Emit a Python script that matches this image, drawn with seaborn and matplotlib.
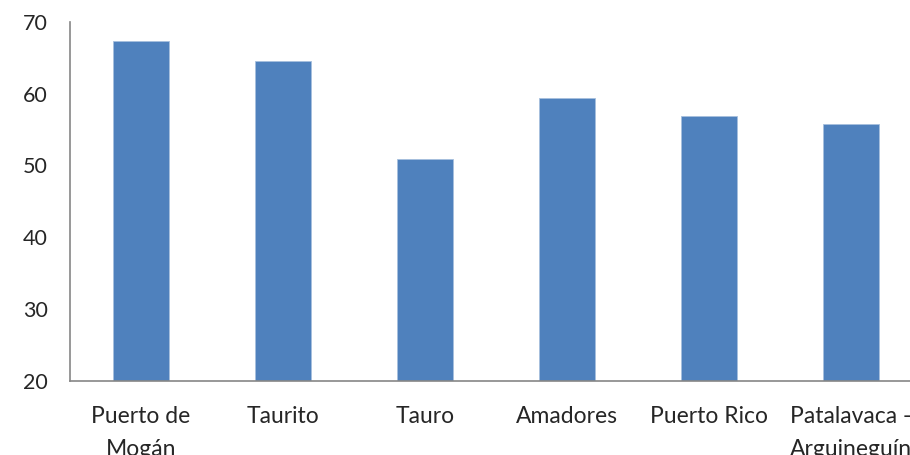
import matplotlib
matplotlib.use("Agg")
import matplotlib.pyplot as plt
import seaborn as sns
import pandas as pd
import numpy as np

sns.set_style("white")
plt.rcParams['font.family'] = ['Lato', 'DejaVu Sans']

places = ["Puerto de\nMogán", "Taurito", "Tauro", "Amadores", "Puerto Rico", "Patalavaca -\nArguineguín"]
values = [67.3, 64.6, 50.9, 59.4, 56.9, 55.8]

df = pd.DataFrame({"place": places, "value": values})

fig = plt.figure(figsize=(9.1, 4.55), dpi=100)
ax = fig.add_axes([70 / 910, 1 - 380.7 / 455, 852 / 910, (380.7 - 22) / 455])

sns.barplot(data=df, x="place", y="value", color="#4F81BD", width=0.4,
            saturation=1, edgecolor="#A7C0DE", linewidth=0.6, ax=ax)

ax.set_ylim(20, 70)
ax.set_xlim(-0.5, len(places) - 0.5)
ax.set_yticks(range(20, 71, 10))
ax.set_xlabel("")
ax.set_ylabel("")

# category boundaries get the tick marks, labels sit in between
ax.set_xticks(np.arange(-0.5, len(places), 1.0))
ax.set_xticklabels([])
ax.set_xticks(range(len(places)), minor=True)
ax.set_xticklabels(places, minor=True, fontsize=16.5, linespacing=1.7)
ax.tick_params(axis="x", which="major", direction="out", length=7, color="#868686", width=1.2)
ax.tick_params(axis="x", which="minor", length=0, pad=18)
ax.tick_params(axis="y", direction="out", length=6, color="#868686", width=1.2, labelsize=15.5, pad=10)

for side in ["top", "right"]:
    ax.spines[side].set_visible(False)
for side in ["left", "bottom"]:
    ax.spines[side].set_color("#868686")
    ax.spines[side].set_linewidth(1.2)

fig.savefig("out.png", dpi=100)
